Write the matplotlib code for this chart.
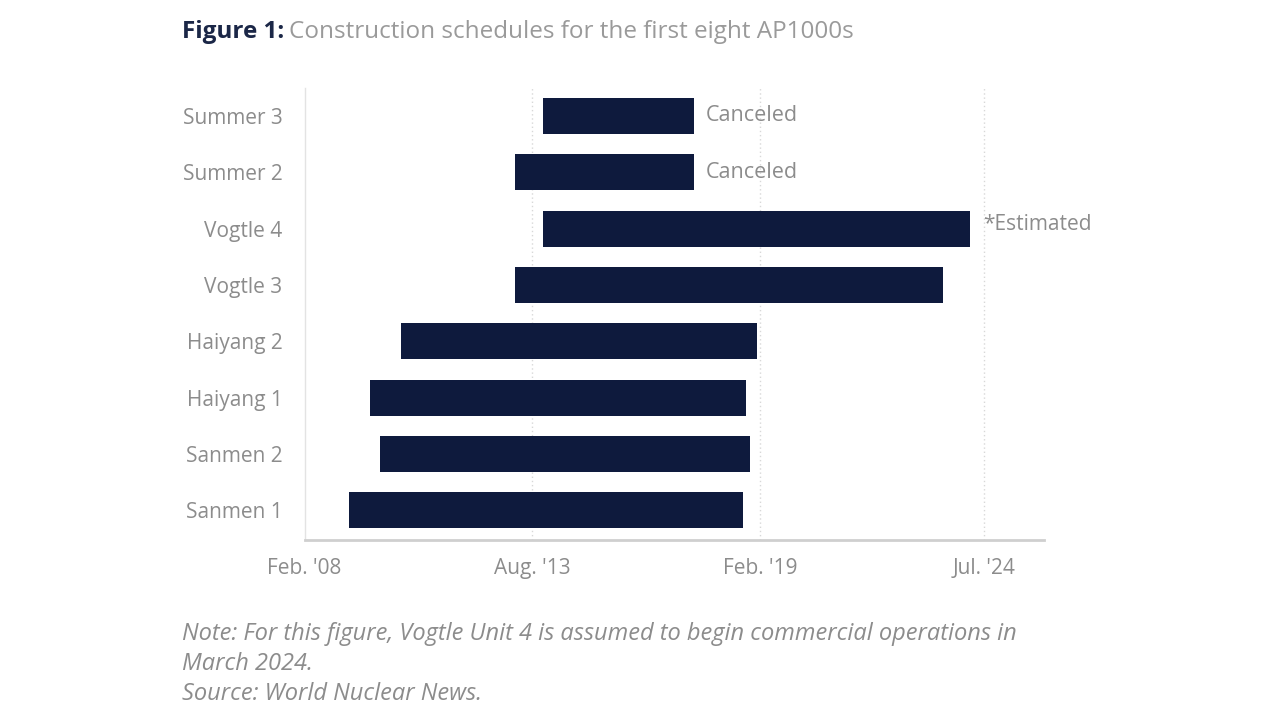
import matplotlib
matplotlib.use("Agg")
import matplotlib.pyplot as plt
import matplotlib.dates as mdates
from datetime import datetime

plt.rcParams['font.family'] = ['Open Sans', 'DejaVu Sans']

# data: construction start and commercial operation / cancellation
units = ['Sanmen 1', 'Sanmen 2', 'Haiyang 1', 'Haiyang 2',
         'Vogtle 3', 'Vogtle 4', 'Summer 2', 'Summer 3']
starts = ['2009-03-01', '2009-12-01', '2009-09-01', '2010-06-01',
          '2013-03-01', '2013-11-01', '2013-03-01', '2013-11-01']
ends = ['2018-09-01', '2018-11-01', '2018-10-01', '2019-01-01',
        '2023-07-01', '2024-03-01', '2017-07-01', '2017-07-01']
notes = ['', '', '', '', '', '*Estimated', 'Canceled', 'Canceled']
tick_dates = ['2008-02-01', '2013-08-01', '2019-02-01', '2024-07-01']
tick_labels = ["Feb. '08", "Aug. '13", "Feb. '19", "Jul. '24"]

navy = '#0e1a3d'
grey = '#8c8c8c'

start_num = [mdates.date2num(datetime.fromisoformat(s)) for s in starts]
end_num = [mdates.date2num(datetime.fromisoformat(e)) for e in ends]
widths = [e - s for s, e in zip(start_num, end_num)]
ticks = [mdates.date2num(datetime.fromisoformat(t)) for t in tick_dates]

fig = plt.figure(figsize=(12.8, 7.2), dpi=100)
ax = fig.add_axes([0.238, 0.25, 0.578, 0.628])

ypos = list(range(len(units)))
ax.barh(ypos, widths, left=start_num, height=0.64, color=navy, zorder=3)

for y, e, n in zip(ypos, end_num, notes):
    if n == 'Canceled':
        ax.text(e + 100, y, n, va='center', ha='left', fontsize=15.5, color=grey)
    elif n:
        ax.text(e + 110, y + 0.08, n, va='center', ha='left', fontsize=15, color=grey)

ax.set_xlim(ticks[0], mdates.date2num(datetime(2025, 12, 15)))
ax.set_ylim(-0.53, 7.5)
ax.set_xticks(ticks)
ax.set_xticklabels(tick_labels, fontsize=15, color=grey)
ax.set_yticks(ypos)
ax.set_yticklabels(units, fontsize=15, color=grey)
ax.tick_params(axis='both', length=0)
ax.tick_params(axis='x', pad=13)
ax.tick_params(axis='y', pad=16)

for t in ticks[1:]:
    ax.axvline(t, color='#d8d8d8', linestyle=(0, (1, 2)), linewidth=1, zorder=1)

for s in ['top', 'right']:
    ax.spines[s].set_visible(False)
ax.spines['left'].set_color('#e3e3e3')
ax.spines['left'].set_linewidth(1)
ax.spines['bottom'].set_color('#cfcfcf')
ax.spines['bottom'].set_linewidth(2)

# title
t1 = fig.text(0.142, 0.955, 'Figure 1:', fontsize=17.5, fontweight='bold',
              color='#1b2747', va='center', ha='left')
fig.canvas.draw()
bb = t1.get_window_extent()
fig.text(bb.x1 / fig.bbox.width + 0.004, 0.955,
         'Construction schedules for the first eight AP1000s',
         fontsize=17.5, color='#9a9a9a', va='center', ha='left')

# notes
note_lines = ['Note: For this figure, Vogtle Unit 4 is assumed to begin commercial operations in',
              'March 2024.',
              'Source: World Nuclear News.']
for i, line in enumerate(note_lines):
    fig.text(0.142, 0.12 - i * 0.042, line, fontsize=17, style='italic',
             color=grey, va='center', ha='left')

fig.savefig('out.png', dpi=100, facecolor='white')
